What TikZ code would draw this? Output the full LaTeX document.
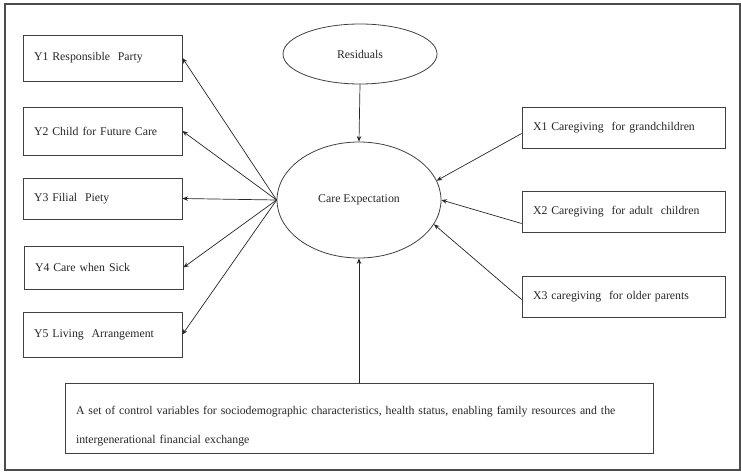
\documentclass[tikz,border=0pt]{standalone}
\usepackage{fontspec}
\setmainfont{Liberation Serif}
\usetikzlibrary{shapes.geometric,arrows.meta}
\begin{document}
\begin{tikzpicture}[x=1pt,y=-1pt,
  every node/.style={font=\fontsize{11.8}{14}\selectfont, text=black!85},
  lbox/.style={draw=black!75, line width=0.8pt, rectangle, align=left, inner xsep=11pt, inner ysep=0pt},
  oval/.style={draw=black!75, line width=0.8pt, ellipse, inner sep=0pt},
  arr/.style={draw=black!85, line width=0.7pt, -{Stealth[length=5.5pt,width=4.5pt]}}
]
\useasboundingbox (0,0) rectangle (741,471);
\draw[black!70, line width=1.6pt] (5,4) rectangle (740,470);

% Ellipses
\node[oval, minimum width=154pt, minimum height=60pt] (res) at (360,54) {Residuals};
\node[oval, minimum width=164pt, minimum height=116pt] (ce) at (359,200) {Care Expectation};

% Y boxes
\node[lbox, minimum width=159pt, minimum height=46pt, text width=137pt] (y1) at (102.5,58) {Y1 Responsible\ \ Party};
\node[lbox, minimum width=159pt, minimum height=48pt, text width=137pt] (y2) at (102.5,131) {Y2 Child\ for\ Future\ Care};
\node[lbox, minimum width=159pt, minimum height=41pt, text width=137pt] (y3) at (102.5,198.5) {Y3 Filial\ \ Piety};
\node[lbox, minimum width=159pt, minimum height=43pt, text width=137pt] (y4) at (103.5,267.5) {Y4 Care when\ Sick};
\node[lbox, minimum width=159pt, minimum height=45pt, text width=137pt] (y5) at (102.5,334.5) {Y5 Living\ \ Arrangement};

% X boxes
\node[lbox, minimum width=203pt, minimum height=41pt, text width=181pt] (x1) at (623.5,127.5) {X1 Caregiving\ \ for\ grandchildren};
\node[lbox, minimum width=203pt, minimum height=41pt, text width=181pt] (x2) at (623.5,211.5) {X2 Caregiving\ \ for\ adult\ \ children};
\node[lbox, minimum width=203pt, minimum height=41pt, text width=181pt] (x3) at (623.5,296.5) {X3 caregiving\ \ for\ older\ parents};

% control box
\node[lbox, minimum width=588pt, minimum height=70pt, text width=566pt, align=left, font=\fontsize{11.8}{29}\selectfont] (ctrl) at (359,418)
  {\rule{0pt}{24pt}A set of control variables\ for\ sociodemographic\ characteristics,\ health\ status,\ enabling\ family\ resources and the\\
   intergenerational\ financial\ exchange};

% connectors
\draw[arr] (res.south) -- (ce.north);
\draw[arr] (ce.west) -- (y1.east);
\draw[arr] (ce.west) -- (y2.east);
\draw[arr] (ce.west) -- (y3.east);
\draw[arr] (ce.west) -- (y4.east);
\draw[arr] (ce.west) -- (y5.east);
\draw[arr] ([yshift=-6pt]x1.west) -- (ce.14);
\draw[arr] ([yshift=-12pt]x2.west) -- (ce.east);
\draw[arr] ([yshift=-3pt]x3.west) -- (ce.-18);
\draw[arr] (ctrl.north) -- (ce.south);
\end{tikzpicture}
\end{document}
